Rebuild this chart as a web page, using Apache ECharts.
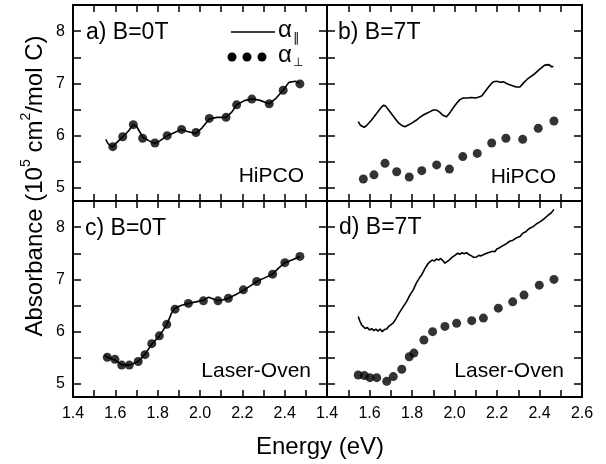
<!DOCTYPE html>
<html>
<head>
<meta charset="utf-8">
<script src="https://cdn.jsdelivr.net/npm/echarts@6/dist/echarts.min.js"></script>
<style>html,body{margin:0;padding:0;background:#fff}#c{width:606px;height:464px}</style>
</head>
<body>
<div id="c"></div>
<script>
// ---------- tick labels ----------
const xTicks = [1.4,1.5,1.6,1.7,1.8,1.9,2.0,2.1,2.2,2.3,2.4,2.5,2.6];
const xLabelsLeft = [1.4,1.6,1.8,2.0,2.2,2.4];
const xLabelsRight = [1.4,1.6,1.8,2.0,2.2,2.4,2.6];
const yTicks = [5,5.5,6,6.5,7,7.5,8,8.5];
const yLabels = [5,6,7,8];

// ---------- panel a) HiPCO, B=0T ----------
const aLineE = [1.555,1.565,1.585,1.61,1.635,1.66,1.685,1.70,1.73,1.76,1.787,1.81,1.845,1.88,1.913,1.94,1.98,2.01,2.044,2.08,2.123,2.15,2.173,2.21,2.245,2.28,2.327,2.36,2.393,2.42,2.45,2.47];
const aLineA = [5.93,5.85,5.78,5.88,5.98,6.08,6.21,6.18,5.97,5.90,5.85,5.90,6.00,6.06,6.12,6.08,6.04,6.15,6.32,6.35,6.35,6.45,6.59,6.67,6.70,6.68,6.61,6.72,6.87,7.02,7.04,7.00];
const aDotE = [1.588,1.635,1.685,1.729,1.787,1.845,1.913,1.981,2.044,2.123,2.173,2.245,2.327,2.393,2.472];
const aDotA = [5.79,5.98,6.21,5.95,5.86,6.00,6.12,6.06,6.33,6.35,6.59,6.70,6.61,6.87,6.99];

// ---------- panel b) HiPCO, B=7T ----------
const bLineE = [1.547,1.557,1.566,1.575,1.585,1.594,1.610,1.625,1.640,1.655,1.665,1.675,1.690,1.705,1.720,1.735,1.750,1.767,1.780,1.795,1.810,1.822,1.840,1.855,1.870,1.885,1.900,1.916,1.930,1.945,1.963,1.980,1.995,2.010,2.025,2.041,2.060,2.080,2.100,2.115,2.128,2.145,2.160,2.172,2.183,2.200,2.215,2.230,2.250,2.270,2.290,2.308,2.325,2.340,2.355,2.370,2.379,2.395,2.410,2.425,2.434,2.445,2.455,2.465];
const bLineA = [6.27,6.20,6.17,6.16,6.19,6.21,6.30,6.38,6.46,6.54,6.58,6.57,6.49,6.41,6.33,6.25,6.20,6.17,6.20,6.23,6.27,6.30,6.36,6.40,6.43,6.46,6.49,6.49,6.45,6.39,6.36,6.45,6.54,6.62,6.69,6.72,6.72,6.73,6.72,6.74,6.76,6.85,6.93,6.99,7.03,7.04,7.02,7.03,6.99,6.96,6.93,6.93,7.01,7.07,7.12,7.16,7.19,7.25,7.30,7.35,7.37,7.36,7.32,7.32];
const bDotE = [1.571,1.621,1.673,1.728,1.787,1.846,1.916,1.976,2.039,2.107,2.175,2.242,2.321,2.394,2.468];
const bDotA = [5.17,5.25,5.47,5.31,5.21,5.33,5.44,5.36,5.60,5.66,5.86,5.95,5.93,6.14,6.28];

// ---------- panel c) Laser-Oven, B=0T ----------
const cLineE = [1.55,1.562,1.598,1.63,1.666,1.708,1.74,1.772,1.808,1.843,1.865,1.882,1.91,1.945,1.98,2.016,2.04,2.06,2.082,2.11,2.134,2.17,2.205,2.24,2.268,2.30,2.343,2.37,2.401,2.44,2.472];
const cLineA = [5.55,5.51,5.46,5.37,5.36,5.43,5.57,5.76,5.92,6.13,6.35,6.45,6.50,6.54,6.57,6.60,6.66,6.63,6.59,6.61,6.64,6.71,6.79,6.88,6.96,7.02,7.10,7.21,7.32,7.38,7.44];
const cDotE = [1.562,1.598,1.630,1.666,1.708,1.740,1.772,1.808,1.843,1.882,1.945,2.016,2.085,2.134,2.205,2.268,2.343,2.401,2.472];
const cDotA = [5.51,5.47,5.36,5.36,5.43,5.56,5.77,5.92,6.14,6.43,6.54,6.59,6.59,6.64,6.80,6.96,7.10,7.32,7.44];

// ---------- panel d) Laser-Oven, B=7T ----------
const dLineE = [1.547,1.555,1.563,1.572,1.580,1.590,1.600,1.610,1.620,1.630,1.640,1.650,1.660,1.670,1.681,1.690,1.700,1.712,1.725,1.740,1.759,1.775,1.790,1.806,1.820,1.835,1.846,1.860,1.875,1.885,1.895,1.905,1.915,1.925,1.935,1.945,1.955,1.963,1.975,1.985,1.995,2.005,2.015,2.025,2.035,2.045,2.057,2.070,2.080,2.090,2.104,2.115,2.125,2.140,2.152,2.165,2.180,2.190,2.199,2.210,2.225,2.235,2.246,2.260,2.275,2.290,2.308,2.320,2.335,2.345,2.355,2.370,2.385,2.402,2.415,2.425,2.441,2.455,2.468];
const dLineA = [6.29,6.20,6.13,6.10,6.06,6.08,6.03,6.06,6.02,6.05,6.01,6.05,6.00,6.04,6.05,6.10,6.13,6.17,6.25,6.36,6.48,6.58,6.70,6.80,6.93,7.03,7.09,7.20,7.30,7.34,7.37,7.35,7.39,7.37,7.40,7.36,7.31,7.34,7.37,7.41,7.44,7.47,7.50,7.48,7.51,7.49,7.51,7.47,7.45,7.42,7.43,7.46,7.45,7.48,7.50,7.52,7.54,7.53,7.58,7.60,7.64,7.66,7.69,7.73,7.75,7.79,7.82,7.88,7.91,7.95,7.98,8.01,8.06,8.10,8.14,8.17,8.23,8.27,8.34];
const dDotE = [1.547,1.576,1.602,1.634,1.681,1.712,1.752,1.787,1.809,1.856,1.897,1.955,2.010,2.081,2.136,2.206,2.274,2.327,2.399,2.468];
const dDotA = [5.17,5.16,5.12,5.12,5.05,5.14,5.28,5.52,5.59,5.84,6.00,6.10,6.16,6.21,6.26,6.45,6.57,6.70,6.89,7.00];

const panelLabels = ['a) B=0T','b) B=7T','c) B=0T','d) B=7T'];
const sampleLabels = ['HiPCO','HiPCO','Laser-Oven','Laser-Oven'];

const zip = (e, a) => e.map((v, i) => [v, a[i]]);
const FONT = '"Liberation Sans", Arial, Helvetica, sans-serif';

const grids = [
  {left: 73, top: 5, width: 254, height: 196},
  {left: 327, top: 5, width: 255, height: 196},
  {left: 73, top: 201, width: 254, height: 196},
  {left: 327, top: 201, width: 255, height: 196}
];

const axLine = {show: true, onZero: false, lineStyle: {color: '#000', width: 2}};
function xAx(g, pos, labels) {
  return {
    type: 'value', gridIndex: g, position: pos, min: 1.4, max: 2.6, interval: 0.1,
    axisLine: axLine,
    axisTick: {show: true, inside: true, length: 7, lineStyle: {color: '#000', width: 1.5}, customValues: xTicks},
    axisLabel: labels ? {show: true, customValues: labels, formatter: v => Number(v).toFixed(1), color: '#000', fontSize: 16, fontFamily: FONT, margin: 9}
                      : {show: false},
    splitLine: {show: false}
  };
}
function yAx(g, pos, labels) {
  return {
    type: 'value', gridIndex: g, position: pos, min: 4.75, max: 8.5, interval: 0.25,
    axisLine: axLine,
    axisTick: {show: true, inside: true, length: 8, lineStyle: {color: '#000', width: 1.5}, customValues: yTicks},
    axisLabel: labels ? {show: true, customValues: labels, formatter: v => String(Math.round(v)), color: '#000', fontSize: 16, fontFamily: FONT, margin: 8}
                      : {show: false},
    splitLine: {show: false}
  };
}

const xAxis = [], yAxis = [], series = [];
const lines = [[aLineE, aLineA], [bLineE, bLineA], [cLineE, cLineA], [dLineE, dLineA]];
const dots = [[aDotE, aDotA], [bDotE, bDotA], [cDotE, cDotA], [dDotE, dDotA]];
for (let g = 0; g < 4; g++) {
  const xl = g === 2 ? xLabelsLeft : (g === 3 ? xLabelsRight : null);
  xAxis.push(xAx(g, 'bottom', xl));
  xAxis.push(xAx(g, 'top', null));
  const yl = (g === 0 || g === 2) ? yLabels : null;
  yAxis.push(yAx(g, 'left', yl));
  yAxis.push(yAx(g, 'right', null));
  series.push({
    type: 'line', xAxisIndex: 2 * g, yAxisIndex: 2 * g, data: zip(lines[g][0], lines[g][1]),
    showSymbol: false, lineStyle: {color: '#000', width: 1.6}, silent: true, animation: false
  });
  series.push({
    type: 'scatter', xAxisIndex: 2 * g, yAxisIndex: 2 * g, data: zip(dots[g][0], dots[g][1]),
    symbol: 'circle', symbolSize: 9, itemStyle: {color: '#000'}, silent: true, animation: false
  });
}

const graphic = [];
const lblPos = [[86, 33], [338, 33], [85, 229], [339, 228]];
const smpPos = [[304, 176], [556, 177], [311, 371], [564, 371]];
for (let g = 0; g < 4; g++) {
  graphic.push({type: 'text', x: lblPos[g][0], y: lblPos[g][1],
    style: {text: panelLabels[g], font: '23px ' + FONT, fill: '#000', textAlign: 'left', textVerticalAlign: 'middle'}});
  graphic.push({type: 'text', x: smpPos[g][0], y: smpPos[g][1],
    style: {text: sampleLabels[g], font: '21px ' + FONT, fill: '#000', textAlign: 'right', textVerticalAlign: 'middle'}});
}
// legend in panel a
graphic.push({type: 'line', shape: {x1: 231, y1: 32, x2: 275, y2: 32}, style: {stroke: '#000', lineWidth: 1.6}});
[232, 247, 262].forEach(cx => graphic.push({type: 'circle', shape: {cx: cx, cy: 57, r: 4.5}, style: {fill: '#000'}}));
graphic.push({type: 'text', x: 278, y: 30, style: {text: 'α', font: '24px ' + FONT, fill: '#000', textAlign: 'left', textVerticalAlign: 'middle'}});
graphic.push({type: 'text', x: 293, y: 38, style: {text: '∥', font: '13px ' + FONT, fill: '#000', textAlign: 'left', textVerticalAlign: 'middle'}});
graphic.push({type: 'text', x: 278, y: 55, style: {text: 'α', font: '24px ' + FONT, fill: '#000', textAlign: 'left', textVerticalAlign: 'middle'}});
graphic.push({type: 'text', x: 293, y: 63, style: {text: '⊥', font: '12px ' + FONT, fill: '#000', textAlign: 'left', textVerticalAlign: 'middle'}});
// axis titles
graphic.push({type: 'text', x: 320, y: 447, style: {text: 'Energy (eV)', font: '24px ' + FONT, fill: '#000', textAlign: 'center', textVerticalAlign: 'middle'}});
graphic.push({type: 'text', x: 33, y: 186, rotation: Math.PI / 2,
  style: {text: '{t|Absorbance (10}{s|5}{t| cm}{s|2}{t|/mol C)}', fill: '#000', textAlign: 'center', textVerticalAlign: 'middle',
    rich: {t: {fontSize: 24, fontFamily: FONT, lineHeight: 28, verticalAlign: 'bottom'}, s: {fontSize: 14, fontFamily: FONT, lineHeight: 28, verticalAlign: 'top'}}}});

const chart = echarts.init(document.getElementById('c'), null, {renderer: 'canvas'});
chart.setOption({
  backgroundColor: '#fff', animation: false,
  grid: grids, xAxis: xAxis, yAxis: yAxis, series: series, graphic: graphic
});
</script>
</body>
</html>
